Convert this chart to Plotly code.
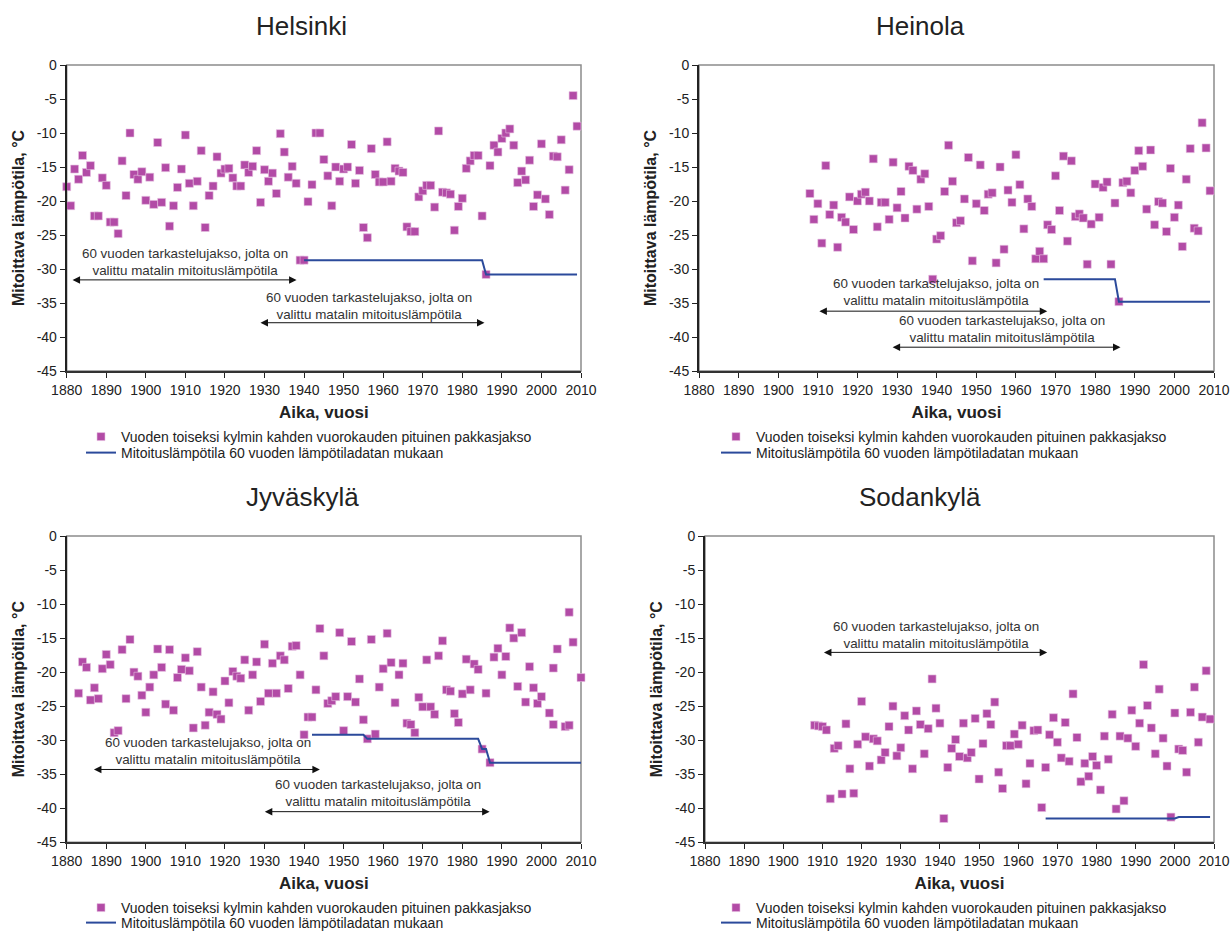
import plotly.graph_objects as go

FONT = "Liberation Sans, Arial, sans-serif"
MAG = "#B24BA6"
BLUE = "#2B4A9B"
TXT = "#222222"

# ---------------- data ----------------
x_ticks = [1880, 1890, 1900, 1910, 1920, 1930, 1940, 1950, 1960, 1970, 1980, 1990, 2000, 2010]
y_ticks = [0, -5, -10, -15, -20, -25, -30, -35, -40, -45]
y_ticktext = ["0", "-5", "-10", "-15", "-20", "-25", "-30", "-35", "-40", "-45"]

helsinki_years = list(range(1880, 2010))
helsinki_vals = [
    -17.9, -20.7, -15.3, -16.8, -13.3, -15.8, -14.8, -22.2, -22.2, -16.6,
    -17.7, -23.1, -23.1, -24.8, -14.1, -19.2, -10.0, -16.1, -16.8, -15.7,
    -19.9, -16.5, -20.5, -11.4, -20.2, -15.1, -23.7, -20.7, -18.0, -15.3,
    -10.3, -17.4, -20.7, -17.1, -12.6, -23.9, -19.2, -17.8, -13.5, -15.9,
    -15.3, -15.2, -16.6, -17.8, -17.8, -14.7, -15.8, -14.9, -12.6, -20.2,
    -15.4, -17.1, -15.9, -18.9, -10.1, -12.8, -16.5, -14.9, -17.4, -28.7,
    -28.7, -20.1, -17.6, -10.0, -10.0, -13.9, -16.3, -20.7, -15.0, -17.1,
    -15.3, -15.0, -11.7, -17.4, -15.5, -23.9, -25.4, -12.3, -16.1, -17.2,
    -17.2, -11.3, -17.1, -15.2, -15.6, -15.8, -23.8, -24.5, -24.5, -19.4,
    -18.5, -17.7, -17.7, -20.9, -9.7, -18.7, -18.8, -19.0, -24.3, -20.8,
    -19.6, -15.2, -14.1, -13.3, -13.3, -22.2, -30.8, -14.8, -11.8, -12.8,
    -10.8, -10.0, -9.4, -11.8, -17.3, -15.6, -16.9, -14.0, -20.8, -19.1,
    -11.6, -19.7, -22.0, -13.4, -13.5, -11.0, -18.4, -15.4, -4.5, -9.0,
]
helsinki_line_years = [1940, 1985, 1986, 2009]
helsinki_line_vals = [-28.7, -28.7, -30.8, -30.8]

heinola_years = list(range(1908, 2010))
heinola_vals = [
    -18.9, -22.7,
    -20.4, -26.2, -14.8, -22.0, -20.6, -26.8, -22.4, -23.1, -19.4, -24.2,
    -20.0, -19.0, -18.7, -20.0, -13.8, -23.8, -20.2, -20.2, -22.7, -14.3,
    -21.0, -18.6, -22.5, -14.9, -15.5, -21.2, -16.8, -16.0, -20.8, -31.5,
    -25.6, -25.1, -18.6, -11.8, -17.1, -23.2, -22.9, -19.7, -13.6, -28.8,
    -20.4, -14.7, -21.4, -19.0, -18.8, -29.1, -15.0, -27.1, -18.4, -20.2,
    -13.2, -17.6, -24.1, -19.7, -20.8, -28.5, -27.4, -28.5, -23.5, -24.2,
    -16.3, -21.4, -13.4, -25.9, -14.1, -22.3, -21.9, -22.5, -29.3, -23.4,
    -17.5, -22.4, -18.0, -17.2, -29.3, -20.3, -34.8, -17.3, -17.1, -18.8,
    -15.5, -12.6, -14.9, -21.2, -12.5, -23.5, -20.1, -20.3, -24.5, -15.2,
    -22.4, -20.6, -26.7, -16.8, -12.3, -24.0, -24.4, -8.5, -12.2, -18.5,
]
heinola_line_years = [1967, 1985, 1986, 2009]
heinola_line_vals = [-31.5, -31.5, -34.8, -34.8]

jyvaskyla_years = list(range(1883, 2001)) + [2002, 2003, 2003, 2004, 2006, 2007, 2007, 2008, 2010]
jyvaskyla_vals = [
    -23.1, -18.5, -19.3, -24.1, -22.3, -23.9, -19.5,
    -17.4, -18.9, -28.9, -28.6, -16.7, -23.9, -15.2, -20.0, -20.6, -23.4,
    -25.9, -22.2, -20.4, -16.6, -19.3, -24.7, -16.7, -25.6, -20.8, -19.6,
    -17.9, -19.8, -28.2, -17.0, -22.2, -27.8, -25.9, -22.9, -26.2, -26.9,
    -21.3, -24.5, -19.9, -20.6, -20.9, -18.2, -25.6, -20.4, -18.5, -24.3,
    -15.9, -23.1, -18.7, -23.1, -17.6, -18.2, -22.4, -16.2, -16.1, -20.4,
    -29.2, -26.6, -26.6, -22.6, -13.6, -17.6, -24.6, -24.2, -23.6, -14.2,
    -28.6, -23.6, -15.5, -24.4, -21.0, -27.0, -29.8, -15.2, -29.1, -22.2,
    -19.5, -14.3, -18.6, -24.5, -20.4, -18.7, -27.5, -27.7, -28.9, -23.7,
    -25.1, -18.2, -25.1, -26.2, -17.6, -15.4, -22.6, -22.8, -26.1, -27.4,
    -23.2, -18.1, -22.6, -18.8, -19.6, -31.3, -23.1, -33.3, -17.8, -16.5,
    -20.4, -17.7, -13.5, -15.0, -22.1, -14.2, -24.4, -19.2, -22.3, -24.6,
    -23.6,
    -26.0, -27.7, -19.4, -16.6, -28.0, -27.8, -11.2, -15.6, -20.8,
]
jyvaskyla_line_years = [1942, 1955, 1956, 1984, 1985, 1986, 1987, 2010]
jyvaskyla_line_vals = [-29.2, -29.2, -29.8, -29.8, -31.3, -31.3, -33.3, -33.3]

sodankyla_years = list(range(1908, 2010))
sodankyla_vals = [
    -27.8, -27.9,
    -28.0, -28.5, -38.6, -31.2, -30.8, -37.9, -27.6, -34.2, -37.8, -30.6,
    -24.3, -29.5, -33.8, -29.8, -30.1, -32.9, -31.8, -28.0, -25.0, -32.3,
    -31.1, -26.4, -28.5, -34.2, -25.7, -27.7, -32.0, -28.3, -21.0, -25.3,
    -27.5, -41.5, -34.0, -31.2, -29.9, -32.4, -27.5, -32.6, -31.8, -26.8,
    -35.7, -30.5, -26.1, -27.7, -24.4, -34.7, -37.1, -30.8, -30.8, -29.1,
    -30.6, -27.8, -36.4, -33.4, -28.6, -28.5, -39.9, -34.0, -29.2, -26.7,
    -30.3, -32.6, -27.4, -33.1, -23.2, -29.6, -36.1, -33.4, -35.3, -32.4,
    -33.7, -37.3, -29.4, -32.8, -26.2, -40.1, -29.4, -38.9, -29.7, -25.6,
    -30.9, -27.5, -18.9, -24.9, -28.2, -32.0, -22.5, -29.7, -33.8, -41.3,
    -26.0, -31.3, -31.5, -34.7, -25.9, -22.2, -30.3, -26.6, -19.8, -26.9,
]
sodankyla_line_years = [1967, 2000, 2001, 2009]
sodankyla_line_vals = [-41.5, -41.5, -41.3, -41.3]

scatter_name = "Vuoden toiseksi kylmin kahden vuorokauden pituinen pakkasjakso"
line_name = "Mitoituslämpötila 60 vuoden lämpötiladatan mukaan"
period_text = "60 vuoden tarkastelujakso, jolta on<br>valittu matalin mitoituslämpötila"

# ---------------- figure ----------------
W, H = 1232, 933


def px_x(p):
    return p / W


def px_y(p):
    return 1 - p / H


panels = [
    dict(title="Helsinki", years=helsinki_years, vals=helsinki_vals,
         ly=helsinki_line_years, lv=helsinki_line_vals,
         xa="x", ya="y", xdom=[66.7, 581], ydom=[65, 371], title_x=301, title_y=26,
         leg_x=81, leg_rows=[437, 453],
         arrows=[(1910.0, -28.9, 1881.1, 1938.1, -31.6), (1956.3, -35.4, 1928.6, 1985.6, -37.9)]),
    dict(title="Heinola", years=heinola_years, vals=heinola_vals,
         ly=heinola_line_years, lv=heinola_line_vals,
         xa="x2", ya="y2", xdom=[699, 1214], ydom=[65, 371], title_x=920, title_y=26,
         leg_x=716, leg_rows=[437, 453],
         arrows=[(1939.7, -33.4, 1910.0, 1967.9, -36.2), (1956.4, -38.8, 1928.5, 1986.4, -41.5)]),
    dict(title="Jyväskylä", years=jyvaskyla_years, vals=jyvaskyla_vals,
         ly=jyvaskyla_line_years, lv=jyvaskyla_line_vals,
         xa="x3", ya="y3", xdom=[66.7, 581], ydom=[536, 842.3], title_x=302, title_y=497,
         leg_x=81, leg_rows=[908, 923],
         arrows=[(1915.8, -31.65, 1886.5, 1944.0, -34.3), (1958.6, -37.75, 1929.7, 1986.9, -40.5)]),
    dict(title="Sodankylä", years=sodankyla_years, vals=sodankyla_vals,
         ly=sodankyla_line_years, lv=sodankyla_line_vals,
         xa="x4", ya="y4", xdom=[705, 1214], ydom=[536, 842.3], title_x=920, title_y=497,
         leg_x=716, leg_rows=[908, 923],
         arrows=[(1939.0, -14.6, 1910.0, 1967.4, -17.1)]),
]

fig = go.Figure()
annotations = []
shapes = []
layout = dict(
    width=W, height=H, autosize=False,
    margin=dict(l=0, r=0, t=0, b=0, pad=0, autoexpand=False),
    paper_bgcolor="white", plot_bgcolor="white",
    font=dict(family=FONT, color=TXT),
    showlegend=True,
)


def legend_box(x, y):
    return dict(
        x=px_x(x), y=px_y(y), xanchor="left", yanchor="middle",
        xref="paper", yref="paper",
        bgcolor="rgba(0,0,0,0)", borderwidth=0, tracegroupgap=0,
        font=dict(family=FONT, size=14, color=TXT), itemwidth=30,
    )


for i, p in enumerate(panels):
    n = "" if i == 0 else str(i + 1)
    leg_a = "legend" + n
    leg_b = "legend" + str(i + 5)
    fig.add_trace(go.Scatter(
        x=p["years"], y=p["vals"], mode="markers", name=scatter_name,
        marker=dict(symbol="square", size=8, color=MAG,
                    line=dict(width=0.6, color="#E7C3E2")),
        xaxis=p["xa"], yaxis=p["ya"], legend=leg_a, cliponaxis=False,
    ))
    fig.add_trace(go.Scatter(
        x=p["ly"], y=p["lv"], mode="lines", name=line_name,
        line=dict(color=BLUE, width=2),
        xaxis=p["xa"], yaxis=p["ya"], legend=leg_b, cliponaxis=False,
    ))
    layout["xaxis" + n] = dict(
        domain=[px_x(p["xdom"][0]), px_x(p["xdom"][1])], anchor=p["ya"],
        range=[1880, 2010], tickmode="array", tickvals=x_ticks,
        ticks="outside", ticklen=5, tickwidth=1, tickcolor="#222",
        showline=True, linecolor="#333", linewidth=2,
        showgrid=False, zeroline=False, automargin=False,
        tickfont=dict(family=FONT, size=14, color=TXT),
        title=dict(text="Aika, vuosi", standoff=9,
                   font=dict(family=FONT, size=17, color=TXT, weight="bold")),
    )
    layout["yaxis" + n] = dict(
        domain=[px_y(p["ydom"][1]), px_y(p["ydom"][0])], anchor=p["xa"],
        range=[-45, 0], tickmode="array", tickvals=y_ticks, ticktext=y_ticktext,
        ticks="outside", ticklen=5, tickwidth=1, tickcolor="#222",
        showline=True, linecolor="#222", linewidth=2,
        showgrid=False, zeroline=False, automargin=False,
        tickfont=dict(family=FONT, size=14, color=TXT),
        title=dict(text="Mitoittava lämpötila, °C", standoff=8,
                   font=dict(family=FONT, size=16, color=TXT, weight="bold")),
    )
    layout[leg_a] = legend_box(p["leg_x"], p["leg_rows"][0])
    layout[leg_b] = legend_box(p["leg_x"], p["leg_rows"][1])
    shapes.append(dict(type="rect", xref=p["xa"] + " domain", yref=p["ya"] + " domain",
                       x0=0, x1=1, y0=0, y1=1, line=dict(color="#8c8c8c", width=1.5),
                       layer="below"))
    annotations.append(dict(text=p["title"], xref="paper", yref="paper",
                            x=px_x(p["title_x"]), y=px_y(p["title_y"]),
                            xanchor="center", yanchor="middle", showarrow=False,
                            font=dict(family=FONT, size=26, color=TXT)))
    for (tx, ty, a0, a1, ay) in p["arrows"]:
        annotations.append(dict(text=period_text, x=tx, y=ty, xref=p["xa"], yref=p["ya"],
                                showarrow=False, xanchor="center", yanchor="middle",
                                font=dict(family=FONT, size=13.4, color="#333")))
        annotations.append(dict(text="", x=a1, y=ay, ax=a0, ay=ay,
                                xref=p["xa"], yref=p["ya"], axref=p["xa"], ayref=p["ya"],
                                showarrow=True, arrowside="end+start", arrowhead=2,
                                startarrowhead=2, arrowsize=1.5, startarrowsize=1.5,
                                arrowwidth=1, arrowcolor="#111", standoff=0, startstandoff=0))

layout["annotations"] = annotations
layout["shapes"] = shapes
fig.update_layout(**layout)
fig.write_html("out.html")
